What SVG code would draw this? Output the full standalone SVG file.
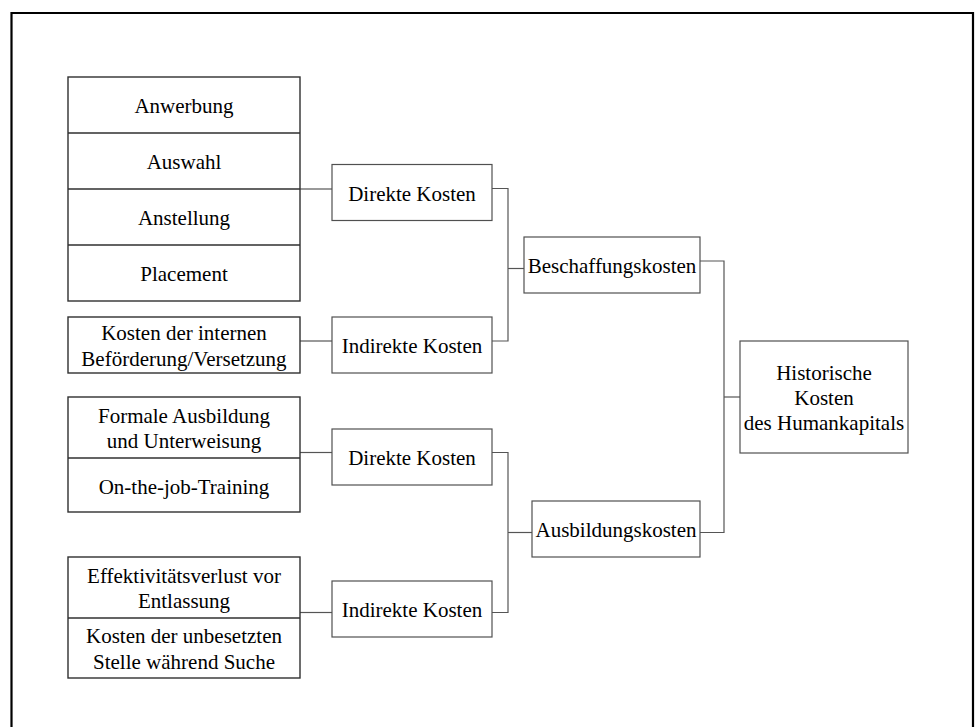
<svg xmlns="http://www.w3.org/2000/svg" width="975" height="727" viewBox="0 0 975 727">
<style>
  text { font-family: "Liberation Serif", "Times New Roman", serif; font-size: 21px; fill: #000; text-anchor: middle; }
  .box { fill: #fff; stroke: #505050; stroke-width: 1.2; }
  .grp { fill: #fff; stroke: #303030; stroke-width: 1.4; }
  .div { stroke: #303030; stroke-width: 1.4; fill: none; }
  .conn { stroke: #555; stroke-width: 1.2; fill: none; }
</style>
<rect width="975" height="727" fill="#fff"/>
<path d="M11.5,727 V13 H973 V727" fill="none" stroke="#000" stroke-width="2.2"/>

<g id="connectors">
  <path class="conn" d="M300,189 H332"/>
  <path class="conn" d="M300,341 H332"/>
  <path class="conn" d="M300,452.5 H332"/>
  <path class="conn" d="M300,612.5 H332"/>
  <path class="conn" d="M492,188.5 H508 V341 H492"/>
  <path class="conn" d="M508,268.5 H524"/>
  <path class="conn" d="M492,452.5 H508 V612.5 H492"/>
  <path class="conn" d="M508,532.5 H532"/>
  <path class="conn" d="M700,261 H724 V532.5 H700"/>
  <path class="conn" d="M724,397 H740"/>
</g>

<g id="beschaffung-direkt-items">
  <rect class="grp" x="68" y="77" width="232" height="224"/>
  <path class="div" d="M68,133 H300 M68,189 H300 M68,245 H300"/>
  <text x="184" y="113">Anwerbung</text>
  <text x="184" y="169">Auswahl</text>
  <text x="184" y="225">Anstellung</text>
  <text x="184" y="281">Placement</text>
</g>

<g id="interne-befoerderung">
  <rect class="grp" x="68" y="317" width="232" height="56"/>
  <text x="184" y="340">Kosten der internen</text>
  <text x="184" y="365.5">Beförderung/Versetzung</text>
</g>

<g id="ausbildung-direkt-items">
  <rect class="grp" x="68" y="397" width="232" height="115"/>
  <path class="div" d="M68,458 H300"/>
  <text x="184" y="422.5">Formale Ausbildung</text>
  <text x="184" y="448">und Unterweisung</text>
  <text x="184" y="493.5">On-the-job-Training</text>
</g>

<g id="ausbildung-indirekt-items">
  <rect class="grp" x="68" y="557" width="232" height="121"/>
  <path class="div" d="M68,618 H300"/>
  <text x="184" y="582.5">Effektivitätsverlust vor</text>
  <text x="184" y="608">Entlassung</text>
  <text x="184" y="643">Kosten der unbesetzten</text>
  <text x="184" y="668.5">Stelle während Suche</text>
</g>

<g id="direkte-kosten-1">
  <rect class="box" x="332" y="164.5" width="160" height="56"/>
  <text x="412" y="201">Direkte Kosten</text>
</g>
<g id="indirekte-kosten-1">
  <rect class="box" x="332" y="317" width="160" height="56"/>
  <text x="412" y="353">Indirekte Kosten</text>
</g>
<g id="direkte-kosten-2">
  <rect class="box" x="332" y="429" width="160" height="56"/>
  <text x="412" y="465">Direkte Kosten</text>
</g>
<g id="indirekte-kosten-2">
  <rect class="box" x="332" y="581" width="160" height="56"/>
  <text x="412" y="617">Indirekte Kosten</text>
</g>

<g id="beschaffungskosten">
  <rect class="box" x="524" y="237" width="176" height="56"/>
  <text x="612" y="273">Beschaffungskosten</text>
</g>
<g id="ausbildungskosten">
  <rect class="box" x="532" y="501" width="168" height="56"/>
  <text x="616" y="537">Ausbildungskosten</text>
</g>

<g id="historische-kosten">
  <rect class="box" x="740" y="341" width="168" height="112"/>
  <text x="824" y="379.5">Historische</text>
  <text x="824" y="405">Kosten</text>
  <text x="824" y="430">des Humankapitals</text>
</g>
</svg>
